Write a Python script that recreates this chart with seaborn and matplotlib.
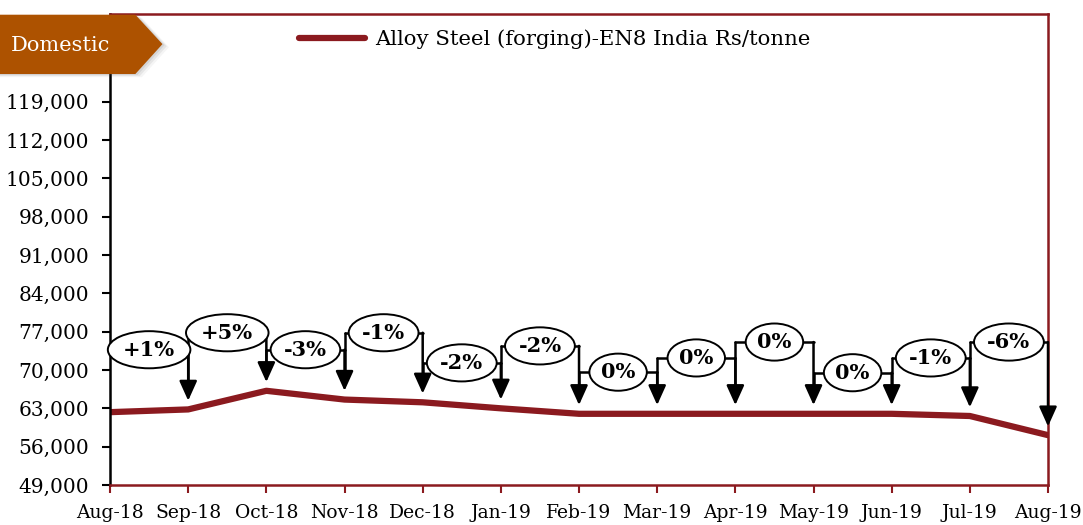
import numpy as np
import pandas as pd
import seaborn as sns
import matplotlib.pyplot as plt
from matplotlib.patches import Polygon

# monthly price, Rs/tonne
months = ['Aug-18', 'Sep-18', 'Oct-18', 'Nov-18', 'Dec-18', 'Jan-19', 'Feb-19',
          'Mar-19', 'Apr-19', 'May-19', 'Jun-19', 'Jul-19', 'Aug-19']
price = [62300, 62800, 66200, 64600, 64100, 63000, 62000,
         62000, 62000, 62000, 62000, 61600, 58100]

# month-on-month change labels and the height of each bracket
change_labels = ['+1%', '+5%', '-3%', '-1%', '-2%', '-2%',
                 '0%', '0%', '0%', '0%', '-1%', '-6%']
bracket_level = [73700, 76800, 73700, 76800, 71300, 74400,
                 69600, 72200, 75100, 69500, 72200, 75100]

yticks = list(range(49000, 126001, 7000))

dark_red = '#8B1A1F'

sns.set_theme(style='white')
plt.rcParams['font.family'] = ['DejaVu Serif']
plt.rcParams['text.color'] = 'black'

fig = plt.figure(figsize=(10.83, 5.25), dpi=100)
ax = fig.add_axes([0.1016, 0.0762, 0.8661, 0.8971])

df = pd.DataFrame({'x': np.arange(len(months)), 'price': price})
sns.lineplot(data=df, x='x', y='price', ax=ax, color=dark_red, lw=4.5,
             label='Alloy Steel (forging)-EN8 India Rs/tonne', zorder=2)

ax.set_xlim(0, len(months) - 1)
ax.set_ylim(49000, 135000)
ax.set_xticks(range(len(months)))
ax.set_xticklabels(months, fontsize=13.5)
ax.set_yticks(yticks)
ax.set_yticklabels([f'{v:,}' for v in yticks], fontsize=14.5)
ax.set_xlabel('')
ax.set_ylabel('')

for side in ['top', 'right', 'bottom']:
    ax.spines[side].set_color(dark_red)
    ax.spines[side].set_linewidth(1.8)
ax.spines['left'].set_color('black')
ax.spines['left'].set_linewidth(1.8)
ax.tick_params(axis='x', colors=dark_red, labelcolor='black', direction='out',
               length=6, width=1.5, bottom=True, pad=8)
ax.tick_params(axis='y', colors='black', labelcolor='black', direction='out',
               length=6, width=1.5, left=True, pad=9)

# brackets with change labels
gap = 1600
for i, lab in enumerate(change_labels):
    lvl = bracket_level[i]
    x0, x1 = i, i + 1
    ax.plot([x0, x1], [lvl, lvl], color='black', lw=1.8, zorder=3)
    if i > 0:
        ax.plot([x0, x0], [lvl, price[x0] + gap + 2000], color='black', lw=1.8, zorder=3)
    ax.annotate('', xy=(x1, price[x1] + gap), xytext=(x1, lvl),
                arrowprops=dict(arrowstyle='-|>,head_width=0.45,head_length=1.0',
                                color='black', lw=1.8, shrinkA=0, shrinkB=0),
                zorder=3)
    ax.text((x0 + x1) / 2, lvl, lab, ha='center', va='center', fontsize=15,
            fontweight='bold', color='black', zorder=4,
            bbox=dict(boxstyle='ellipse,pad=0.15', fc='white', ec='black', lw=1.4))

leg = ax.legend(loc='center left', bbox_to_anchor=(0.268, 0.925),
                bbox_transform=fig.transFigure, frameon=False,
                fontsize=15.3, handlelength=3.1, handletextpad=0.5,
                borderaxespad=0)
for h in leg.get_lines():
    h.set_linewidth(4.5)

# "Domestic" tag
tag_color = '#AD5200'
for k, a in enumerate([0.12, 0.09, 0.06]):
    d = 0.002 * (k + 1)
    fig.patches.append(Polygon([(0, 0.859 - d), (0.125 + d, 0.859 - d),
                                (0.150 + d, 0.916 - d), (0.125 + d, 0.972 - d),
                                (0, 0.972 - d)], closed=True,
                               transform=fig.transFigure, fc='#555555',
                               ec='none', alpha=a, zorder=9))
tag = Polygon([(0, 0.859), (0.125, 0.859), (0.150, 0.916), (0.125, 0.972),
               (0, 0.972)], closed=True, transform=fig.transFigure,
              fc=tag_color, ec='none', zorder=10)
fig.patches.append(tag)
fig.text(0.056, 0.914, 'Domestic', color='white', fontsize=15, ha='center',
         va='center', zorder=11)

fig.savefig('out.png', dpi=100)
